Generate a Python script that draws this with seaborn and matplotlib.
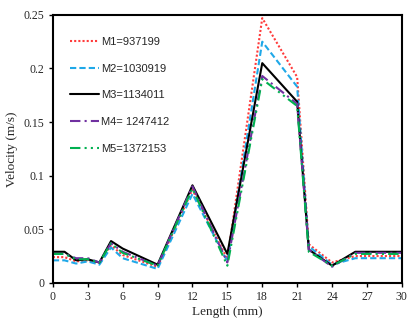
import matplotlib
matplotlib.use("Agg")
import matplotlib.pyplot as plt
import seaborn as sns
import pandas as pd

length = [0, 1, 2, 3, 4, 5, 6, 9, 12, 15, 18, 21, 22, 24, 26, 30]
m1 = [0.024, 0.024, 0.020, 0.021, 0.019, 0.035, 0.026, 0.015, 0.087, 0.022, 0.247, 0.192, 0.036, 0.019, 0.025, 0.025]
m2 = [0.021, 0.021, 0.018, 0.020, 0.017, 0.033, 0.023, 0.013, 0.083, 0.020, 0.225, 0.183, 0.034, 0.017, 0.023, 0.023]
m3 = [0.029, 0.029, 0.021, 0.022, 0.019, 0.039, 0.032, 0.017, 0.091, 0.027, 0.205, 0.169, 0.031, 0.016, 0.029, 0.029]
m4 = [0.027, 0.027, 0.023, 0.023, 0.019, 0.037, 0.029, 0.016, 0.090, 0.019, 0.193, 0.167, 0.031, 0.015, 0.028, 0.028]
m5 = [0.027, 0.027, 0.022, 0.022, 0.019, 0.037, 0.028, 0.016, 0.088, 0.016, 0.190, 0.165, 0.029, 0.016, 0.027, 0.027]
labels = ["M1=937199", "M2=1030919", "M3=1134011", "M4= 1247412", "M5=1372153"]
x_ticks = [0, 3, 6, 9, 12, 15, 18, 21, 24, 27, 30]
y_ticks = [0, 0.05, 0.1, 0.15, 0.2, 0.25]
y_tick_labels = ["0", "0.05", "0.1", "0.15", "0.2", "0.25"]

rows = []
for lab, vals in zip(labels, [m1, m2, m3, m4, m5]):
    for x, v in zip(length, vals):
        rows.append({"Length": x, "Velocity": v, "Mesh": lab})
df = pd.DataFrame(rows)

sns.set_style("white")
plt.rcParams['font.family'] = ['Liberation Serif', 'DejaVu Serif']

fig = plt.figure(figsize=(4.13, 3.24), dpi=100)
ax = fig.add_axes([0.128, 0.127, 0.845, 0.827])

palette = {labels[0]: "#ff3b3b", labels[1]: "#1fa8e8", labels[2]: "#000000",
           labels[3]: "#7030a0", labels[4]: "#00b050"}
dashes = {labels[0]: (1, 1), labels[1]: (3, 1.5), labels[2]: "",
          labels[3]: (5, 2, 1, 2), labels[4]: (5, 2, 1, 2, 1, 2)}

sns.lineplot(data=df, x="Length", y="Velocity", hue="Mesh", style="Mesh",
             palette=palette, dashes=dashes, linewidth=1.5, ax=ax,
             hue_order=labels, style_order=labels)

ax.set_xlim(0, 30)
ax.set_ylim(0, 0.25)
ax.set_xticks(x_ticks)
ax.set_xticklabels([str(t) for t in x_ticks], fontsize=8.5)
ax.set_yticks(y_ticks)
ax.set_yticklabels(y_tick_labels, fontsize=8.5)
ax.set_xlabel("Length (mm)", fontsize=9.5, labelpad=2)
ax.set_ylabel("Velocity (m/s)", fontsize=9.5, labelpad=4)

for s in ax.spines.values():
    s.set_color("black")
    s.set_linewidth(1.5)
ax.tick_params(axis="both", direction="out", length=3, width=1, color="black", pad=3,
               bottom=True, left=True)

leg = ax.legend(loc="upper left", bbox_to_anchor=(0.02, 0.955), frameon=False,
                handlelength=2.6, labelspacing=1.5, handletextpad=0.2,
                prop={"family": ["Liberation Sans", "DejaVu Sans"], "size": 8})

fig.savefig("out.png", dpi=100)
